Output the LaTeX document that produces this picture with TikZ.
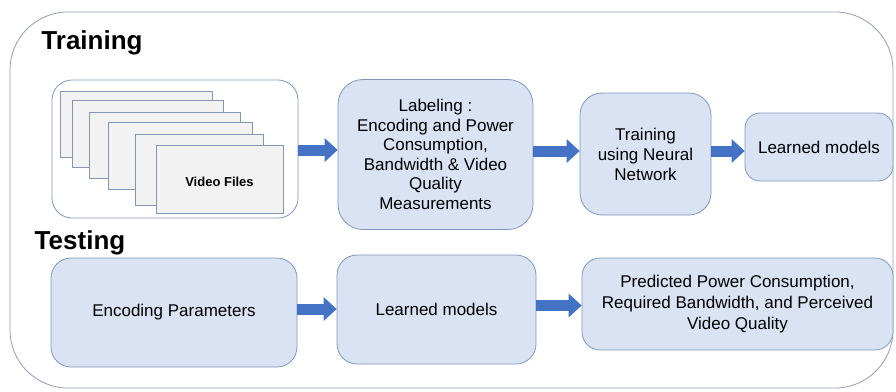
\documentclass[tikz,border=0pt]{standalone}
\usepackage{fontspec}
\setmainfont{Liberation Sans}
\usetikzlibrary{arrows.meta,calc}

\definecolor{boxfill}{HTML}{DAE3F3}
\definecolor{boxline}{HTML}{8097BA}
\definecolor{outerline}{HTML}{8E9DB4}
\definecolor{arrowblue}{HTML}{4472C4}
\definecolor{pagefill}{HTML}{F2F2F2}
\definecolor{pageline}{HTML}{8496B0}

\tikzset{
  stepbox/.style={draw=boxline, fill=boxfill, line width=0.8pt, inner sep=0pt,
    align=center, font=\fontsize{17}{20}\selectfont},
  pagebox/.style={draw=pageline, fill=pagefill, line width=0.8pt},
  sectiontitle/.style={font=\fontsize{26}{30}\selectfont\bfseries, inner sep=0pt},
  bigarrow/.style={draw=arrowblue, line width=11pt,
    -{Triangle[length=13pt,width=24pt,line width=0pt]}}
}

\begin{document}
\begin{tikzpicture}[x=1pt,y=-1pt]
  \useasboundingbox (0,0) rectangle (896,391);

  % outer frame
  \node[draw=outerline, line width=0.8pt, rounded corners=58pt,
        minimum width=883pt, minimum height=376pt, inner sep=0pt]
        (frame) at (451.5,200) {};

  % section titles
  \node[sectiontitle] (trainTitle) at (92,43) {Training};
  \node[sectiontitle] (testTitle) at (80,243) {Testing};

  % video files container
  \node[draw=boxline, fill=white, line width=0.8pt, rounded corners=20pt,
        minimum width=246pt, minimum height=138pt, inner sep=0pt]
        (vf) at (175,149) {};

  % stacked video pages
  \draw[pagebox] (60,91) rectangle (212,157);
  \draw[pagebox] (72,100) rectangle (223,167);
  \draw[pagebox] (89,112) rectangle (240,178);
  \draw[pagebox] (108,122) rectangle (252,189);
  \draw[pagebox] (135,134) rectangle (263,205);
  \draw[pagebox] (156,145) rectangle (283,213);
  \node[font=\fontsize{13}{15}\selectfont\bfseries] (vfText) at (219.5,182) {Video Files};

  % training row
  \node[stepbox, rounded corners=25pt, minimum width=195pt, minimum height=150pt,
        font=\fontsize{17}{19.5}\selectfont]
        (lab) at (435.5,154.5)
        {Labeling :\\Encoding and Power\\Consumption,\\Bandwidth \& Video\\Quality\\Measurements};
  \node[stepbox, rounded corners=22pt, minimum width=131pt, minimum height=122pt]
        (nn) at (645.5,154) {Training\\using Neural\\Network};
  \node[stepbox, rounded corners=15pt, minimum width=148pt, minimum height=68pt]
        (lm1) at (819,147) {Learned models};

  % testing row
  \node[stepbox, rounded corners=20pt, minimum width=246pt, minimum height=109pt]
        (enc) at (174,312.5) {Encoding Parameters};
  \node[stepbox, rounded corners=20pt, minimum width=199pt, minimum height=109pt]
        (lm2) at (436.5,309.5) {Learned models};
  \node[stepbox, rounded corners=18pt, minimum width=311pt, minimum height=92pt,
        font=\fontsize{17}{21}\selectfont]
        (pred) at (737.5,304)
        {Predicted Power Consumption,\\Required Bandwidth, and Perceived\\Video Quality};

  % block arrows between steps
  \draw[bigarrow] (vf.east |- 0,150) -- (lab.west |- 0,150);
  \draw[bigarrow] (lab.east |- 0,151) -- (nn.west |- 0,151);
  \draw[bigarrow] (nn.east |- 0,151) -- (lm1.west |- 0,151);
  \draw[bigarrow] (enc.east |- 0,309) -- (lm2.west |- 0,309);
  \draw[bigarrow] (lm2.east |- 0,305.5) -- (pred.west |- 0,305.5);
\end{tikzpicture}
\end{document}
